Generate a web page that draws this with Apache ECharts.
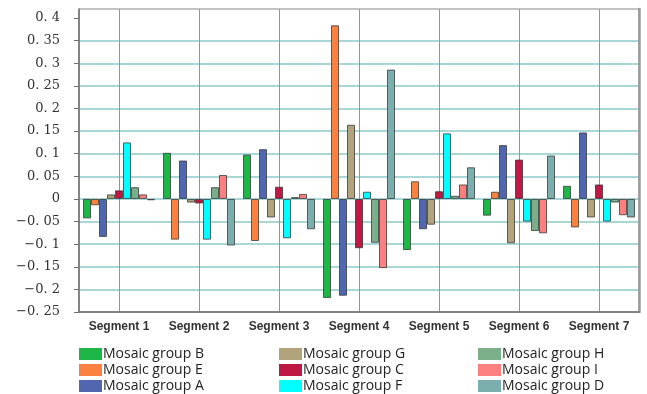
<!DOCTYPE html>
<html>
<head>
<meta charset="utf-8">
<script src="https://cdn.jsdelivr.net/npm/echarts@6/dist/echarts.min.js"></script>
<style>
  html, body { margin: 0; padding: 0; background: #fff; }
  #chart { width: 647px; height: 394px; }
</style>
</head>
<body>
<div id="chart"></div>
<script>
// Segment categories along the x axis
const segments = ['Segment 1', 'Segment 2', 'Segment 3', 'Segment 4', 'Segment 5', 'Segment 6', 'Segment 7'];

// Values per mosaic group, one entry per segment
const groupB = [-0.043, 0.102, 0.098, -0.219, -0.113, -0.037, 0.029];
const groupE = [-0.014, -0.090, -0.093, 0.384, 0.039, 0.016, -0.063];
const groupA = [-0.084, 0.085, 0.110, -0.214, -0.067, 0.119, 0.147];
const groupG = [0.010, -0.008, -0.041, 0.164, -0.057, -0.098, -0.041];
const groupC = [0.019, -0.010, 0.027, -0.109, 0.017, 0.087, 0.032];
const groupF = [0.125, -0.090, -0.087, 0.016, 0.145, -0.050, -0.050];
const groupH = [0.026, 0.026, 0.004, -0.097, 0.007, -0.071, -0.008];
const groupI = [0.010, 0.053, 0.011, -0.153, 0.032, -0.076, -0.036];
const groupD = [-0.003, -0.103, -0.067, 0.286, 0.070, 0.096, -0.041];

// Y axis tick values
const yTicks = [-0.25, -0.2, -0.15, -0.1, -0.05, 0, 0.05, 0.1, 0.15, 0.2, 0.25, 0.3, 0.35, 0.4];

const groups = [
  { name: 'Mosaic group B', data: groupB, color: '#1DB747' },
  { name: 'Mosaic group E', data: groupE, color: '#FB8140' },
  { name: 'Mosaic group A', data: groupA, color: '#5066AE' },
  { name: 'Mosaic group G', data: groupG, color: '#B1A37B' },
  { name: 'Mosaic group C', data: groupC, color: '#BE1844' },
  { name: 'Mosaic group F', data: groupF, color: '#00FFFF' },
  { name: 'Mosaic group H', data: groupH, color: '#7AAF89' },
  { name: 'Mosaic group I', data: groupI, color: '#FC8080' },
  { name: 'Mosaic group D', data: groupD, color: '#7BAFAE' }
];

function fmtTick(v) {
  const r = Math.round(v * 100);
  if (r % 5 !== 0) return '';
  if (r === 0) return '0';
  const s = String(Math.abs(r) / 100).replace('.', '. ');
  return (r < 0 ? '\u2212' : '') + s;
}

const legendBase = {
  orient: 'vertical',
  top: 347,
  height: 120,
  padding: 0,
  itemGap: 2,
  itemWidth: 23,
  itemHeight: 12,
  icon: 'rect',
  selectedMode: false,
  itemStyle: { borderWidth: 0 },
  textStyle: {
    fontFamily: 'Open Sans', fontSize: 14, lineHeight: 12, height: 12, color: '#222',
    padding: [0, 0, 0, -4]
  }
};

const chart = echarts.init(document.getElementById('chart'), null, { renderer: 'canvas' });
chart.setOption({
  animation: false,
  backgroundColor: '#fff',
  grid: {
    left: 79, right: 8, top: 9, bottom: 82,
    show: true, borderColor: '#858585', borderWidth: 1
  },
  legend: [
    Object.assign({}, legendBase, { left: 79, data: ['Mosaic group B', 'Mosaic group E', 'Mosaic group A'] }),
    Object.assign({}, legendBase, { left: 279, data: ['Mosaic group G', 'Mosaic group C', 'Mosaic group F'] }),
    Object.assign({}, legendBase, { left: 478, data: ['Mosaic group H', 'Mosaic group I', 'Mosaic group D'] })
  ],
  xAxis: {
    type: 'category',
    data: segments,
    axisLine: { onZero: false, lineStyle: { color: '#6f6f6f', width: 1.5 } },
    axisTick: { alignWithLabel: true, length: 4, lineStyle: { color: '#6f6f6f' } },
    splitLine: { show: true, alignWithLabel: true, lineStyle: { color: '#5AADAD', width: 1 } },
    axisLabel: {
      margin: 9,
      fontFamily: 'Liberation Sans',
      fontWeight: 'bold',
      fontSize: 12,
      color: '#333'
    }
  },
  yAxis: [
    {
      type: 'value',
      min: -0.25,
      max: 0.42,
      interval: 0.05,
      axisLine: { show: true, lineStyle: { color: '#6f6f6f', width: 1.5 } },
      axisTick: { show: true, length: 5, customValues: yTicks, lineStyle: { color: '#6f6f6f' } },
      axisLabel: {
        customValues: yTicks,
        margin: 19,
        fontFamily: 'DejaVu Serif',
        fontSize: 13,
        color: '#333',
        formatter: fmtTick
      },
      splitLine: {
        show: true, showMaxLine: false, showMinLine: false,
        lineStyle: { color: '#8CC9C9', width: 1.5 }
      }
    },
    {
      type: 'value',
      position: 'right',
      min: -0.25,
      max: 0.42,
      interval: 0.05,
      axisLine: { show: true, lineStyle: { color: '#9a9a9a', width: 2.5 } },
      axisTick: { show: false },
      axisLabel: { show: false },
      splitLine: { show: false }
    }
  ],
  series: groups.map(g => ({
    type: 'bar',
    name: g.name,
    data: g.data,
    barGap: 0,
    barCategoryGap: '10%',
    itemStyle: { color: g.color, borderColor: 'rgba(50,50,50,0.75)', borderWidth: 1 }
  }))
});
</script>
</body>
</html>
